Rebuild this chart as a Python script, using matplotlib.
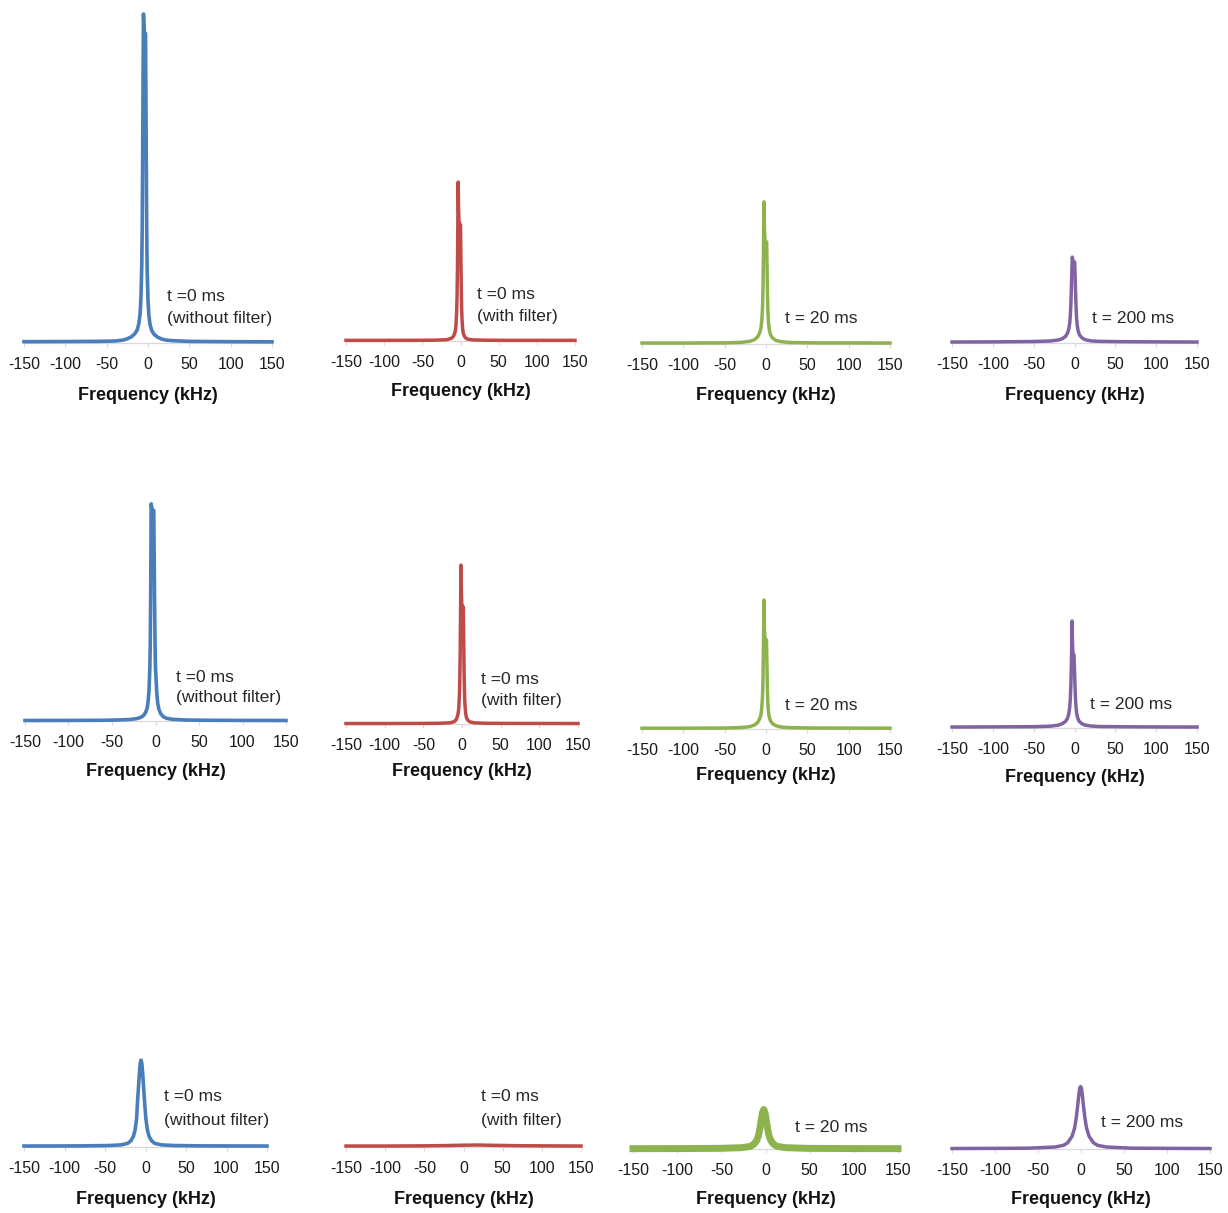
import numpy as np
import matplotlib
matplotlib.use('Agg')
import matplotlib.pyplot as plt

plt.rcParams['font.family'] = ['Liberation Sans', 'DejaVu Sans']
plt.rcParams['axes.unicode_minus'] = False

# ---- spectra: frequency (kHz) and intensity (common arbitrary units) ----
ticks = [-150, -100, -50, 0, 50, 100, 150]

# row 1
freq_a1 = [-150, -100, -60, -40, -30, -25, -20, -16, -13, -11, -9.5, -8.5, -7.5, -7, -6.5, -6,
           -5.5, -5, -4.5, -4, -3.5, -3, -2.5, -2, -1.5, -1, 0, 1, 2.5, 4.5, 7.5, 11.5, 16.5,
           21.5, 30, 50, 100, 150]
int_a1 = [0.4, 0.45, 0.5, 0.6, 0.9, 1.3, 1.9, 2.8, 4, 6, 9, 14, 24, 35, 55, 80,
          100, 97, 95, 94, 94, 94, 75, 52, 33, 22, 13, 8.5, 5.6, 3.8, 2.6, 1.8, 1.2,
          0.9, 0.7, 0.5, 0.4, 0.35]

freq_a2 = [-150, -100, -50, -33, -18, -12, -9, -7, -6, -5, -4.5, -4, -3.5, -3, -2.5, -2, -1, 0,
           0.5, 1, 1.5, 2, 3, 4, 6, 9, 15, 30, 60, 150]
int_a2 = [0.2, 0.2, 0.22, 0.25, 0.4, 0.8, 1.5, 2.8, 4.5, 9, 14, 22, 36, 48.3, 40, 36.5, 35.5, 35.3,
          26, 16, 10, 6.5, 3.3, 2, 1.1, 0.6, 0.35, 0.25, 0.2, 0.2]

freq_a3 = [-150, -100, -50, -30, -20, -14, -10, -7.5, -6, -5, -4.2, -3.6, -3.1, -2.4, -1.9, -1.4,
           -0.4, 0.8, 1.3, 1.8, 2.3, 3, 4, 5.5, 8, 12, 18, 30, 60, 150]
int_a3 = [0.3, 0.3, 0.35, 0.5, 0.8, 1.3, 2.2, 3.5, 5, 7.5, 11, 17, 27, 43.2, 35, 32,
          31, 31, 23, 15, 10, 6.5, 4.3, 2.8, 1.8, 1.1, 0.7, 0.45, 0.35, 0.3]

freq_a4 = [-150, -100, -50, -30, -20, -15, -11, -8.5, -7, -6, -5.2, -4.5, -3.9, -3.3, -2.7, -2.2,
           -1.2, -0.3, 0.2, 0.7, 1.3, 1.9, 2.6, 3.4, 4.5, 6.5, 9.5, 13, 20, 30, 60, 100, 150]
int_a4 = [0.3, 0.35, 0.45, 0.6, 0.9, 1.3, 2, 3, 4.2, 5.8, 8, 11.5, 16, 21.5, 26.1, 25.3,
          24.6, 24.4, 24.6, 21, 15.5, 11, 7.5, 5.3, 3.6, 2.3, 1.5, 1, 0.65, 0.5, 0.4, 0.35, 0.3]

# row 2
freq_b1 = [-150, -100, -60, -45, -30, -22, -17, -14, -11.5, -9.5, -8.5, -7.5, -6.5, -6, -5.5, -5,
           -4.5, -4, -3, -2, -1.5, -1, -0.5, 0, 1.5, 2.5, 4, 6, 9, 13, 20, 35, 60, 100, 150]
int_b1 = [0.15, 0.18, 0.22, 0.3, 0.45, 0.7, 1.1, 1.6, 2.5, 4, 6, 9, 16, 24, 40, 66,
          65, 64.5, 64, 64, 50, 35, 23, 16, 8.5, 5.5, 3.5, 2.2, 1.3, 0.8, 0.5, 0.3, 0.22, 0.18, 0.15]

freq_b2 = [-150, -100, -50, -31, -16, -10, -7.3, -5.3, -4.3, -3.3, -2.8, -2.3, -1.8, -1.3, -0.8,
           -0.3, 0.7, 1.7, 2.2, 2.7, 3.2, 3.7, 4.7, 5.7, 7.7, 10.7, 16.7, 31.7, 60, 150]
int_b2 = [0.15, 0.15, 0.18, 0.22, 0.35, 0.7, 1.4, 2.8, 4.5, 9, 14, 22, 36, 48.3, 40,
          36.5, 35.8, 35.6, 26, 16, 10, 6.5, 3.3, 2, 1.1, 0.6, 0.35, 0.22, 0.18, 0.15]

freq_b3 = [-150, -100, -50, -30, -20, -14, -10, -7.5, -6, -5, -4.2, -3.6, -3.1, -2.4, -1.9, -1.4,
           -0.4, 0.6, 1.1, 1.6, 2.1, 2.8, 3.8, 5.3, 8, 12, 18, 30, 60, 150]
int_b3 = [0.25, 0.25, 0.3, 0.45, 0.7, 1.2, 2, 3.2, 4.5, 6.8, 10, 15.5, 24.5, 39.2, 30.5, 28,
          27.2, 27, 20, 13, 8.7, 5.7, 3.8, 2.5, 1.6, 1, 0.6, 0.4, 0.3, 0.25]

freq_b4 = [-150, -100, -50, -30, -20, -15, -11, -8.5, -7, -6, -5.2, -4.5, -3.9, -3.4, -3, -2.5,
           -2, -1.2, -0.6, -0.1, 0.5, 1.1, 1.8, 2.6, 3.7, 5.5, 8.5, 12, 20, 30, 60, 100, 150]
int_b4 = [0.3, 0.35, 0.4, 0.55, 0.85, 1.3, 2, 3, 4.3, 6, 8.5, 12.5, 18, 25, 32.5, 26,
          23, 22.3, 22.2, 18.5, 13.5, 9.5, 6.5, 4.6, 3.2, 2.1, 1.4, 0.95, 0.6, 0.45, 0.38, 0.33, 0.3]

# row 3
freq_c1 = [-150, -100, -75, -45, -30, -22, -18, -15, -13, -11, -10, -8.5, -7.5, -6.5, -5.5,
           -4.5, -3.5, -2.5, -1, 0.5, 2.5, 4.5, 7.5, 11.5, 19.5, 35, 65, 100, 150]
int_c1 = [0.3, 0.32, 0.35, 0.45, 0.65, 1.1, 1.9, 3.2, 5, 8.5, 13.2, 18.8, 22.5, 25.4, 26.4,
          25.4, 22.5, 18.8, 13.2, 8.5, 5, 3.2, 1.9, 1.1, 0.65, 0.45, 0.35, 0.32, 0.3]

freq_c2 = [-150, -100, -50, -20, 0, 20, 40, 70, 100, 150]
int_c2 = [0.3, 0.3, 0.35, 0.45, 0.55, 0.6, 0.5, 0.4, 0.35, 0.3]

freq_c3 = [-150, -100, -52, -27, -17, -13, -10, -8, -6.5, -5, -3.5, -2, -0.5, 1, 2.5, 4, 6, 9,
           13, 23, 48, 100, 150]
int_c3 = [0.1, 0.12, 0.2, 0.4, 0.8, 1.5, 2.6, 4, 6, 8.5, 11, 12, 11, 8.5, 6, 4, 2.6, 1.5,
          0.8, 0.4, 0.2, 0.12, 0.1]

freq_c4 = [-150, -100, -60.5, -30.5, -20.5, -15.5, -10.5, -7.5, -5.5, -3.5, -2.5, -1.5, -0.5,
           0.5, 1.5, 2.5, 4.5, 6.5, 9.5, 14.5, 19.5, 29.5, 59.5, 100, 150]
int_c4 = [0.15, 0.2, 0.25, 0.6, 1.1, 1.9, 3.8, 6.3, 9.5, 14, 16.5, 18.5, 19,
          18.5, 16.5, 14, 9.5, 6.3, 3.8, 1.9, 1.1, 0.6, 0.25, 0.2, 0.15]

labels_a = [['t =0 ms', '(without filter)'], ['t =0 ms', '(with filter)'], ['t = 20 ms'], ['t = 200 ms']]

BLUE, RED, GREEN, PURPLE = '#4A7EBB', '#BE4B48', '#8DB34F', '#8064A2'

# panel layout in pixels: left(-150), right(150), baseline, text x (kHz), text y (units),
# xlabel offset below baseline, line width
panels = [
    (freq_a1, int_a1, BLUE,   24, 272, 343, labels_a[0], 23, [14.0, 7.3], 52, 2.6),
    (freq_a2, int_a2, RED,    346, 575, 341, labels_a[1], 21.6, [14.0, 7.3], 51, 2.5),
    (freq_a3, int_a3, GREEN,  642, 890, 344, labels_a[2], 23, [7.6], 52, 2.5),
    (freq_a4, int_a4, PURPLE, 952, 1197, 343, labels_a[3], 21.4, [7.3], 53, 2.5),
    (freq_b1, int_b1, BLUE,   25, 286, 721, labels_a[0], 23.6, [13.1, 7.0], 51, 2.6),
    (freq_b2, int_b2, RED,    346, 578, 724, labels_a[1], 24.6, [13.4, 7.0], 48, 2.5),
    (freq_b3, int_b3, GREEN,  642, 890, 729, labels_a[2], 23, [7.0], 47, 2.5),
    (freq_b4, int_b4, PURPLE, 952, 1197, 728, labels_a[3], 19, [7.0], 50, 2.5),
    (freq_c1, int_c1, BLUE,   24, 267, 1147, labels_a[0], 22.8, [15.2, 8.2], 53, 2.6),
    (freq_c2, int_c2, RED,    346, 581, 1147, labels_a[1], 22.3, [15.2, 8.2], 53, 2.5),
    (freq_c3, int_c3, GREEN,  633, 898, 1149, labels_a[2], 33.4, [6.4], 50, 5.0),
    (freq_c4, int_c4, PURPLE, 952, 1210, 1149, labels_a[3], 23.3, [8.2], 51, 2.5),
]

W, H = 1228, 1213
PX_PER_UNIT = 3.29
AX_H = 100 * PX_PER_UNIT

fig = plt.figure(figsize=(W / 100, H / 100), dpi=100)
fig.patch.set_facecolor('white')

for freq, inten, color, xl, xr, yb, texts, tx, tys, lab_off, lw in panels:
    ax = fig.add_axes([xl / W, 1 - yb / H, (xr - xl) / W, AX_H / H])
    ax.patch.set_alpha(0)
    ax.plot(freq, inten, color=color, lw=lw, clip_on=False, solid_joinstyle='round', zorder=3)
    ax.set_xlim(-150, 150)
    ax.set_ylim(0, 100)
    for s in ['top', 'left', 'right']:
        ax.spines[s].set_visible(False)
    ax.spines['bottom'].set_color('#d9d9d9')
    ax.spines['bottom'].set_linewidth(0.9)
    ax.set_yticks([])
    ax.set_xticks(ticks)
    ax.set_xticklabels([str(t) for t in ticks])
    ax.tick_params(axis='x', direction='out', length=3, width=0.8, color='#d9d9d9',
                   labelsize=11.5, labelcolor='#1a1a1a', pad=7)
    for t, ty in zip(texts, tys):
        ax.text(tx, ty, t, fontsize=12.6, color='#262626', ha='left', va='center')
    ax.text(0.5, -lab_off / AX_H, 'Frequency (kHz)', transform=ax.transAxes,
            ha='center', va='center', fontsize=13, fontweight='bold', color='#111111')

fig.savefig('out.png', dpi=100, facecolor='white')
plt.close()
